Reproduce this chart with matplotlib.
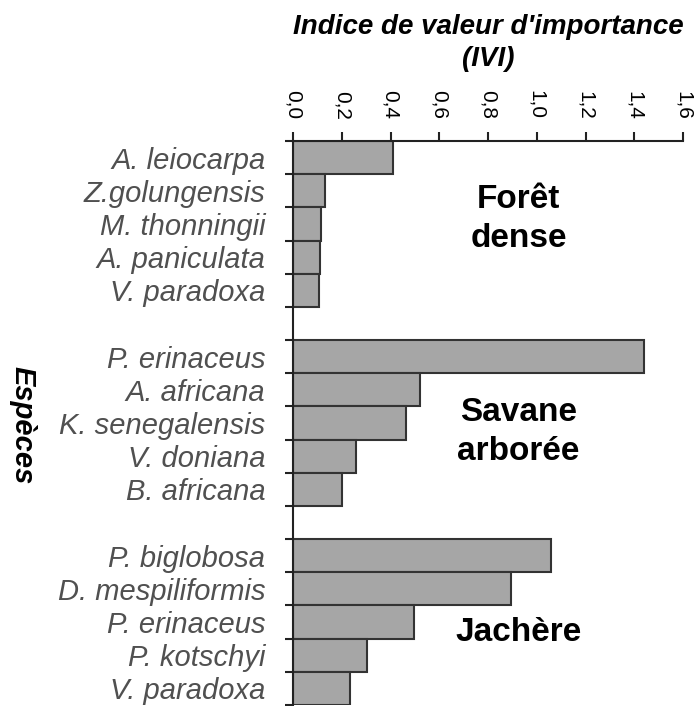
import numpy as np
import matplotlib
matplotlib.use("Agg")
import matplotlib.pyplot as plt

plt.rcParams['font.family'] = ['Liberation Sans', 'DejaVu Sans']

# species per group (top to bottom)
foret_sp = ["A. leiocarpa", "Z.golungensis", "M. thonningii", "A. paniculata", "V. paradoxa"]
foret_ivi = [0.41, 0.13, 0.115, 0.11, 0.105]
savane_sp = ["P. erinaceus", "A. africana", "K. senegalensis", "V. doniana", "B. africana"]
savane_ivi = [1.44, 0.52, 0.465, 0.26, 0.20]
jachere_sp = ["P. biglobosa", "D. mespiliformis", "P. erinaceus", "P. kotschyi", "V. paradoxa"]
jachere_ivi = [1.06, 0.895, 0.495, 0.305, 0.235]
groups = ["Forêt\ndense", "Savane\narborée", "Jachère"]
xticks = [0.0, 0.2, 0.4, 0.6, 0.8, 1.0, 1.2, 1.4, 1.6]

W, H = 695, 706
fig = plt.figure(figsize=(W / 100, H / 100), dpi=100)
ax = fig.add_axes([293 / W, 1 - 705 / H, 390 / W, (705 - 141) / H])

species = foret_sp + [""] + savane_sp + [""] + jachere_sp
values = foret_ivi + [0] + savane_ivi + [0] + jachere_ivi
pos = np.arange(len(species))
mask = np.array([s != "" for s in species])

ax.barh(pos[mask], np.array(values)[mask], height=1.0, color="#a6a6a6",
        edgecolor="#333333", linewidth=1.5)

ax.set_xlim(0, 1.6)
ax.set_ylim(len(species) - 0.5, -0.5)

for s in ["right", "bottom"]:
    ax.spines[s].set_visible(False)
for s in ["top", "left"]:
    ax.spines[s].set_linewidth(1.5)
    ax.spines[s].set_color("#222222")

ax.xaxis.tick_top()
ax.set_xticks(xticks)
ax.set_xticklabels([("%.1f" % v).replace(".", ",") for v in xticks],
                   rotation=270, fontsize=15, va="bottom", ha="center")
ax.tick_params(axis="x", length=6.5, width=1.5, pad=9, color="#222222")

ax.set_yticks(np.arange(-0.5, len(species), 1.0))
ax.set_yticklabels([])
ax.tick_params(axis="y", which="major", length=6, width=1.5, color="#222222")
ax.set_yticks(pos[mask], minor=True)
ax.set_yticklabels([s for s in species if s], minor=True, fontsize=21,
                   style="italic", color="#505050")
ax.tick_params(axis="y", which="minor", length=0, pad=20)

centers = [1.85, 8.27, 14.3]
for g, c in zip(groups, centers):
    ax.text(0.925, c, g, fontsize=24, fontweight="bold", ha="center",
            va="center", linespacing=1.35)

fig.text(488 / W, 1 - 43 / H, "Indice de valeur d'importance\n(IVI)",
         ha="center", va="center", fontsize=20, fontweight="bold",
         style="italic", linespacing=1.25)
fig.text(22 / W, 1 - 425 / H, "Espèces", rotation=270, ha="center", va="center",
         fontsize=21, fontweight="bold", style="italic")

fig.savefig("out.png", dpi=100)
